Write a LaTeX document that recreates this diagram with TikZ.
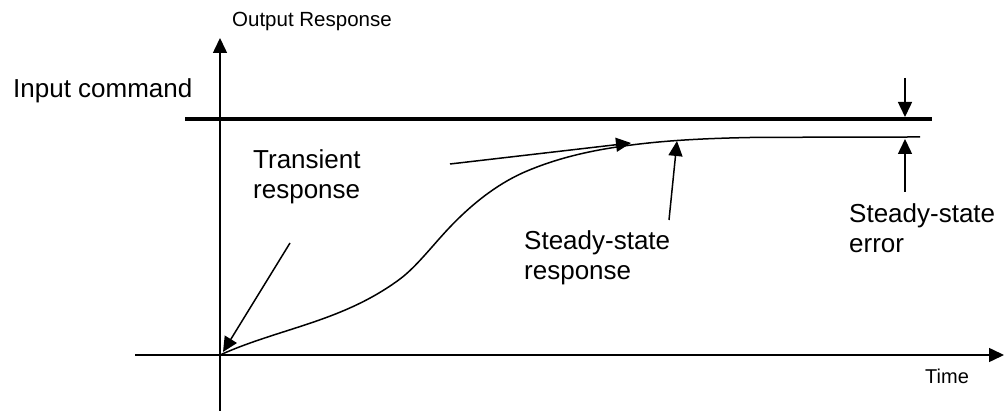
\documentclass[tikz,border=0pt]{standalone}
\usepackage{fontspec}
\setmainfont{Liberation Sans}
\usetikzlibrary{arrows.meta}
\tikzset{
  thinline/.style={line width=1.5pt, line cap=butt},
  thickline/.style={line width=4pt},
  pointer/.style={thinline, -{Triangle[length=15pt,width=14pt]}},
  label/.style={inner sep=0pt, font=\fontsize{26}{30}\selectfont},
  biglabel/.style={label, anchor=north west, align=left},
}
\begin{document}
\begin{tikzpicture}[x=1pt, y=-1pt]
\useasboundingbox (0,0) rectangle (1004,411);

% axes
\coordinate (origin) at (220,355);
\coordinate (ybottom) at (220,411);
\coordinate (ytop) at (220,38);
\coordinate (xleft) at (135,355);
\coordinate (xright) at (1004,355);
\draw[pointer] (ybottom) -- (ytop);
\draw[pointer] (xleft) -- (xright);

% reference level
\coordinate (cmdleft) at (185,119);
\coordinate (cmdright) at (932,119);
\draw[thickline] (cmdleft) -- (cmdright);

% system output
\draw[thinline] (origin)
  .. controls (280,328) and (342,322) .. (400,279)
  .. controls (416.7,266.5) and (433.3,244.5) .. (450,227)
  .. controls (475.7,200.1) and (501.3,181.8) .. (527,171)
  .. controls (557,158.4) and (587,151.5) .. (617,147)
  .. controls (661.3,140.3) and (705.7,138.4) .. (750,137.5)
  .. controls (806.7,137.2) and (863.3,137) .. (920,137);

% labels
\node[label, anchor=base west] (inputcmd) at (13,98) {Input command};
\node[label, anchor=base west, font=\fontsize{20.5}{24}\selectfont] (outresp) at (232,27) {Output Response};
\node[label, anchor=base west, font=\fontsize{20}{24}\selectfont] (time) at (925,384) {Time};
\node[biglabel] (transient) at (253,149) {Transient\\response};
\node[biglabel] (ssresp) at (524,230) {Steady-state\\response};
\node[biglabel] (sserr) at (849,203) {Steady-state\\error};

% pointers
\coordinate (trfrom) at (290,243);
\coordinate (trto) at (223,352);
\draw[pointer] (trfrom) -- (trto);

\coordinate (tanfrom) at (450,164);
\coordinate (tanto) at (631,143);
\draw[pointer] (tanfrom) -- (tanto);

\coordinate (ssfrom) at (669,220);
\coordinate (ssto) at (677,141);
\draw[pointer] (ssfrom) -- (ssto);

\coordinate (errtop) at (905,78);
\coordinate (errtopto) at (905,117);
\draw[pointer] (errtop) -- (errtopto);
\coordinate (errbot) at (905,192);
\coordinate (errbotto) at (905,139);
\draw[pointer] (errbot) -- (errbotto);
\end{tikzpicture}
\end{document}
